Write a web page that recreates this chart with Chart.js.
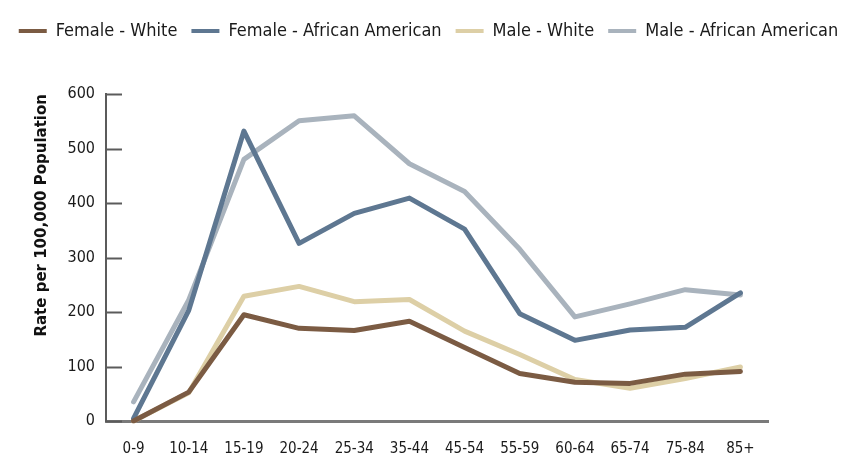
<!DOCTYPE html>
<html lang="en">
<head>
<meta charset="UTF-8">
<title>Rate per 100,000 Population</title>
<script src="https://cdn.jsdelivr.net/npm/chart.js"></script>
<style>
    html, body {
        margin: 0;
        padding: 0;
        background: #ffffff;
    }
    .chart-box {
        width: 857px;
        height: 464px;
    }
</style>
</head>
<body>
<div class="chart-box">
    <canvas id="rateChart"></canvas>
</div>
<script>
// age groups along the x axis
const ageGroups = ['0-9', '10-14', '15-19', '20-24', '25-34', '35-44', '45-54', '55-59', '60-64', '65-74', '75-84', '85+'];

// rate per 100,000
const femaleWhite = [0, 53, 195, 170, 166, 183, 135, 87, 71, 69, 86, 91];
const femaleAfricanAmerican = [5, 203, 532, 326, 381, 409, 352, 197, 148, 167, 172, 235];
const maleWhite = [0, 52, 229, 247, 219, 223, 165, 122, 76, 60, 78, 99];
const maleAfricanAmerican = [35, 222, 480, 551, 560, 472, 421, 315, 191, 215, 241, 231];

const yTicks = [0, 100, 200, 300, 400, 500, 600];

const narrowFont = "'DejaVu Sans Condensed', 'Liberation Sans Narrow', sans-serif";

// tick marks on the y axis point into the plot, so draw them here
const innerTicks = {
    id: 'innerTicks',
    afterDatasetsDraw(chart) {
        const ctx = chart.ctx;
        const y = chart.scales.y;
        const left = chart.chartArea.left;
        ctx.save();
        ctx.strokeStyle = '#5b5b5b';
        ctx.lineWidth = 2;
        yTicks.forEach(v => {
            const py = Math.round(y.getPixelForValue(v)) + 0.5;
            ctx.beginPath();
            ctx.moveTo(left, py);
            ctx.lineTo(left + 16, py);
            ctx.stroke();
        });
        ctx.restore();
    }
};

function line(label, data, color) {
    return {
        label: label,
        data: data,
        borderColor: color,
        backgroundColor: color,
        borderWidth: 5,
        pointRadius: 0,
        tension: 0,
        borderJoinStyle: 'round',
        borderCapStyle: 'round'
    };
}

// empty axes only used to hold space round the plot
const spacer = (pos, size) => ({
    position: pos,
    display: true,
    grid: { display: false, drawTicks: false },
    border: { display: false },
    ticks: { display: false },
    afterFit: axis => {
        if (pos === 'top') axis.height = size; else axis.width = size;
    }
});

new Chart(document.getElementById('rateChart'), {
    type: 'line',
    data: {
        labels: ageGroups,
        datasets: [
            line('Female - White', femaleWhite, '#7b5b43'),
            line('Female - African American', femaleAfricanAmerican, '#5e7791'),
            line('Male - White', maleWhite, '#ddcfa6'),
            line('Male - African American', maleAfricanAmerican, '#a9b3bd')
        ]
    },
    plugins: [innerTicks],
    options: {
        responsive: true,
        maintainAspectRatio: false,
        animation: false,
        layout: {
            padding: { top: 8, right: 0, bottom: 0, left: 0 }
        },
        plugins: {
            tooltip: { enabled: false },
            legend: {
                position: 'top',
                labels: {
                    boxWidth: 28,
                    boxHeight: 4,
                    padding: 14,
                    color: '#1a1a1a',
                    font: { family: narrowFont, size: 18 },
                    generateLabels: chart => Chart.defaults.plugins.legend.labels.generateLabels(chart)
                        .map(l => Object.assign(l, { lineWidth: 0, fillStyle: l.strokeStyle }))
                }
            }
        },
        scales: {
            x: {
                offset: true,
                afterFit: axis => { axis.height = 43; },
                grid: { display: false, drawTicks: false },
                border: { color: '#7a7a7a', width: 3 },
                ticks: {
                    color: '#1a1a1a',
                    padding: 19,
                    maxRotation: 0,
                    autoSkip: false,
                    font: { family: narrowFont, size: 15 }
                }
            },
            xTop: Object.assign({ type: 'category' }, spacer('top', 44)),
            yRight: Object.assign({ type: 'linear' }, spacer('right', 89)),
            y: {
                min: 0,
                max: 600,
                afterBuildTicks: axis => { axis.ticks = yTicks.map(v => ({ value: v })); },
                afterFit: axis => { axis.width = 106; },
                grid: { display: false, drawTicks: false },
                border: { color: '#5b5b5b', width: 2 },
                ticks: {
                    color: '#1a1a1a',
                    padding: 11,
                    font: { family: narrowFont, size: 16 }
                },
                title: {
                    display: true,
                    align: 'end',
                    text: 'Rate per 100,000 Population',
                    color: '#111111',
                    padding: { top: 33, bottom: 0 },
                    font: { family: "'DejaVu Sans', sans-serif", size: 15, weight: 'bold' }
                }
            }
        }
    }
});
</script>
</body>
</html>
